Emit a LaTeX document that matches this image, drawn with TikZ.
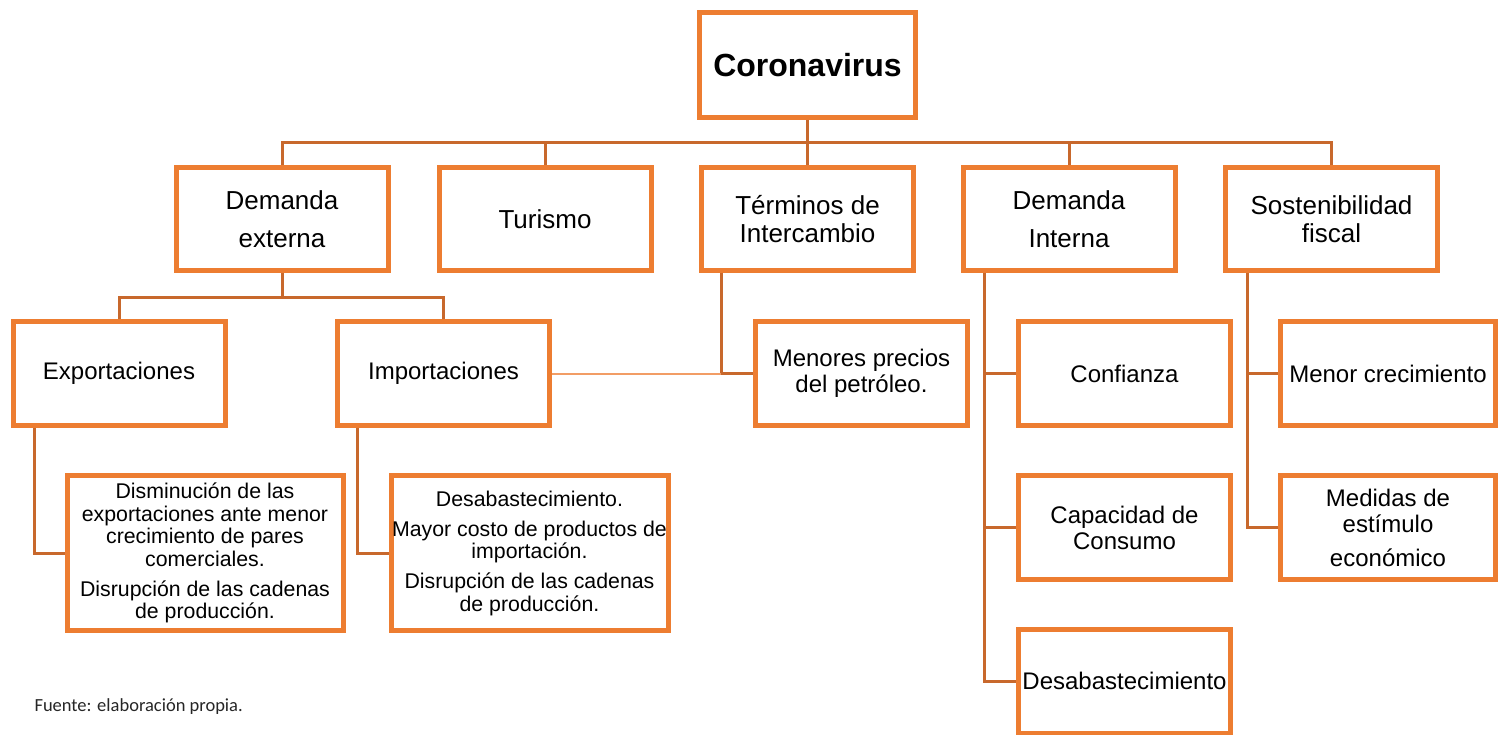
\documentclass[tikz,border=0pt]{standalone}
\usepackage{fontspec}
\setmainfont{Liberation Sans}
\newfontfamily\notefont{Carlito}
\usetikzlibrary{positioning,calc}
\definecolor{boxorange}{RGB}{237,125,49}
\definecolor{linkorange}{RGB}{200,104,44}

\begin{document}
\begin{tikzpicture}[x=1pt, y=-1pt,
    box/.style={rectangle, draw=boxorange, line width=5pt, fill=white, align=center, inner sep=0pt, minimum width=212pt, minimum height=104pt},
    topbox/.style={box, font=\fontsize{32}{36}\selectfont\bfseries, minimum width=216pt, minimum height=105pt},
    mainbox/.style={box, font=\fontsize{26}{28}\selectfont, minimum height=103pt},
    subbox/.style={box, font=\fontsize{24}{26}\selectfont},
    notebox/.style={box, font=\fontsize{21.3}{22.5}\selectfont, minimum width=276pt, minimum height=155pt},
    link/.style={draw=linkorange, line width=3pt},
    thinlink/.style={draw=boxorange!75, line width=2pt},
    source/.style={font=\notefont\fontsize{18.5}{20}\selectfont, anchor=west, text=black!85}
]

% === PAGE FRAME ===
% coordinates are in pixels of the 1504 x 735 sheet, y runs downwards
\useasboundingbox (0,0) rectangle (1504,735);

% Root
\node[topbox] (corona) at (807.5, 65) {Coronavirus};

% Main channels: y=219
\node[mainbox] (dext) at (282, 219) {Demanda\\[10pt]externa};
\node[mainbox] (tur) at (545, 219) {Turismo};
\node[mainbox] (term) at (807.5, 219) {Términos de\\Intercambio};
\node[mainbox] (dint) at (1069, 219) {Demanda\\[10pt]Interna};
\node[mainbox] (sost) at (1331.5, 219) {Sostenibilidad\\fiscal};

% Second level: y=373.5
\node[subbox] (expo) at (119, 373.5) {Exportaciones};
\node[subbox] (impo) at (443.5, 373.5) {Importaciones};
\node[subbox] (petr) at (861.5, 373.5) {Menores precios\\del petróleo.};
\node[subbox] (conf) at (1124.5, 373.5) {Confianza};
\node[subbox, minimum width=215pt] (menc) at (1388, 373.5) {Menor crecimiento};

% Third level: y=527.5 and y=681
\node[subbox] (cap) at (1124.5, 527.5) {Capacidad de\\Consumo};
\node[subbox, minimum width=215pt] (medi) at (1388, 527.5) {Medidas de\\estímulo\\[8pt]económico};
\node[subbox] (desab) at (1124.5, 681) {Desabastecimiento};

% Effects on external demand
\node[notebox] (expd) at (205, 553) {Disminución de las\\exportaciones ante menor\\crecimiento de pares\\comerciales.\\[7.5pt]Disrupción de las cadenas\\de producción.};
\node[notebox, minimum width=277pt] (impd) at (529.5, 553) {Desabastecimiento.\\[7.5pt]Mayor costo de productos de\\importación.\\[7.5pt]Disrupción de las cadenas\\de producción.};

% Source note
\node[source] (src) at (31, 707) {Fuente: elaboración propia.};

% === CONNECTORS ===
\coordinate (bus) at (807.5, 143);
\draw[link] (corona) -- (bus);
\foreach \n in {dext,tur,term,dint,sost} {
    \draw[link] (\n.north) |- (bus);
}

\coordinate (dbus) at (282, 297);
\draw[link] (dext) -- (dbus);
\foreach \n in {expo,impo} {
    \draw[link] (\n.north) |- (dbus);
}

\draw[link] ([xshift=24pt]expo.south west) |- (expd.west);
\draw[link] ([xshift=22pt]impo.south west) |- (impd.west);

% terms of trade drop, joined by the thin line from imports
\coordinate (tdrop) at ([xshift=22pt]term.south west);
\draw[link] (tdrop) |- (petr.west);
\draw[thinlink] (impo.east) -- (impo.east -| tdrop);

% internal demand
\coordinate (ddrop) at ([xshift=24pt]dint.south west);
\draw[link] (ddrop) |- (desab.west);
\foreach \n in {conf,cap} {
    \draw[link] (\n.west) -- (\n.west -| ddrop);
}

% fiscal sustainability
\coordinate (sdrop) at ([xshift=24pt]sost.south west);
\draw[link] (sdrop) |- (medi.west);
\draw[link] (menc.west) -- (menc.west -| sdrop);

\end{tikzpicture}
\end{document}
